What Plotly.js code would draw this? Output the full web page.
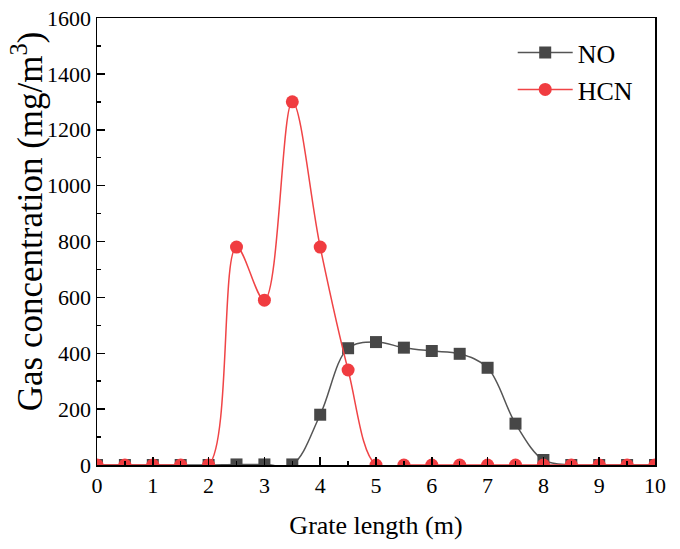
<!DOCTYPE html>
<html>
<head>
<meta charset="utf-8">
<script src="https://cdn.plot.ly/plotly-3.0.1.min.js"></script>
<style>html,body{margin:0;padding:0;background:#fff;}#chart{width:680px;height:549px;}</style>
</head>
<body>
<div id="chart"></div>
<script>
const gratePos = [0,0.5,1,1.5,2,2.5,3,3.5,4,4.5,5,5.5,6,6.5,7,7.5,8,8.5,9,9.5,10];
const noValues = [0,0,0,0,0,2,2,2,180,418,440,420,408,398,348,148,18,0,0,0,0];
const hcnValues = [0,0,0,0,0,780,590,1300,780,340,0,0,0,0,0,0,0,0,0,0,0];
const xTicks = [0,1,2,3,4,5,6,7,8,9,10];
const yTicks = [0,200,400,600,800,1000,1200,1400,1600];

const font = '"Liberation Serif", "Times New Roman", serif';
const traces = [
  {x: gratePos, y: noValues, name: 'NO', mode: 'lines+markers', type: 'scatter',
   line: {color: '#555555', width: 1.5, shape: 'spline', smoothing: 1},
   marker: {symbol: 'square', size: 12, color: '#474747'}},
  {x: gratePos, y: hcnValues, name: 'HCN', mode: 'lines+markers', type: 'scatter',
   line: {color: '#f04446', width: 1.5, shape: 'spline', smoothing: 1},
   marker: {symbol: 'circle', size: 13, color: '#f03c40'}}
];
const layout = {
  width: 680, height: 549,
  margin: {l: 97, r: 25, t: 18, b: 84},
  paper_bgcolor: '#fff', plot_bgcolor: '#fff',
  font: {family: font, color: '#000'},
  showlegend: true,
  legend: {x: 0.745, y: 0.975, xanchor: 'left', yanchor: 'top', font: {family: font, size: 26}, bgcolor: 'rgba(0,0,0,0)', tracegroupgap: 6, itemwidth: 55},
  xaxis: {range: [0, 10], tickvals: xTicks, ticktext: xTicks.map(String),
    ticks: 'inside', ticklen: 8, tickwidth: 1.5, tickcolor: '#000',
    minor: {dtick: 0.5, ticks: 'inside', ticklen: 4, tickwidth: 1.5, tickcolor: '#000'},
    showline: true, linecolor: '#000', linewidth: 1.5, mirror: true,
    showgrid: false, zeroline: false, tickfont: {family: font, size: 22},
    title: {text: 'Grate length (m)', font: {family: font, size: 26}, standoff: 19}},
  yaxis: {range: [0, 1600], tickvals: yTicks, ticktext: yTicks.map(String),
    ticks: 'inside', ticklen: 8, tickwidth: 1.5, tickcolor: '#000',
    minor: {dtick: 100, ticks: 'inside', ticklen: 4, tickwidth: 1.5, tickcolor: '#000'},
    showline: true, linecolor: '#000', linewidth: 1.5, mirror: true,
    showgrid: false, zeroline: false, tickfont: {family: font, size: 22}},
  annotations: [{
    text: 'Gas concentration (mg/m<sup>3</sup>)', textangle: -90,
    xref: 'paper', yref: 'paper', x: -0.124, y: 0.545,
    xanchor: 'center', yanchor: 'middle', showarrow: false,
    font: {family: font, size: 35, color: '#000'}
  }]
};
Plotly.newPlot('chart', traces, layout, {displayModeBar: false, staticPlot: true});
</script>
</body>
</html>
